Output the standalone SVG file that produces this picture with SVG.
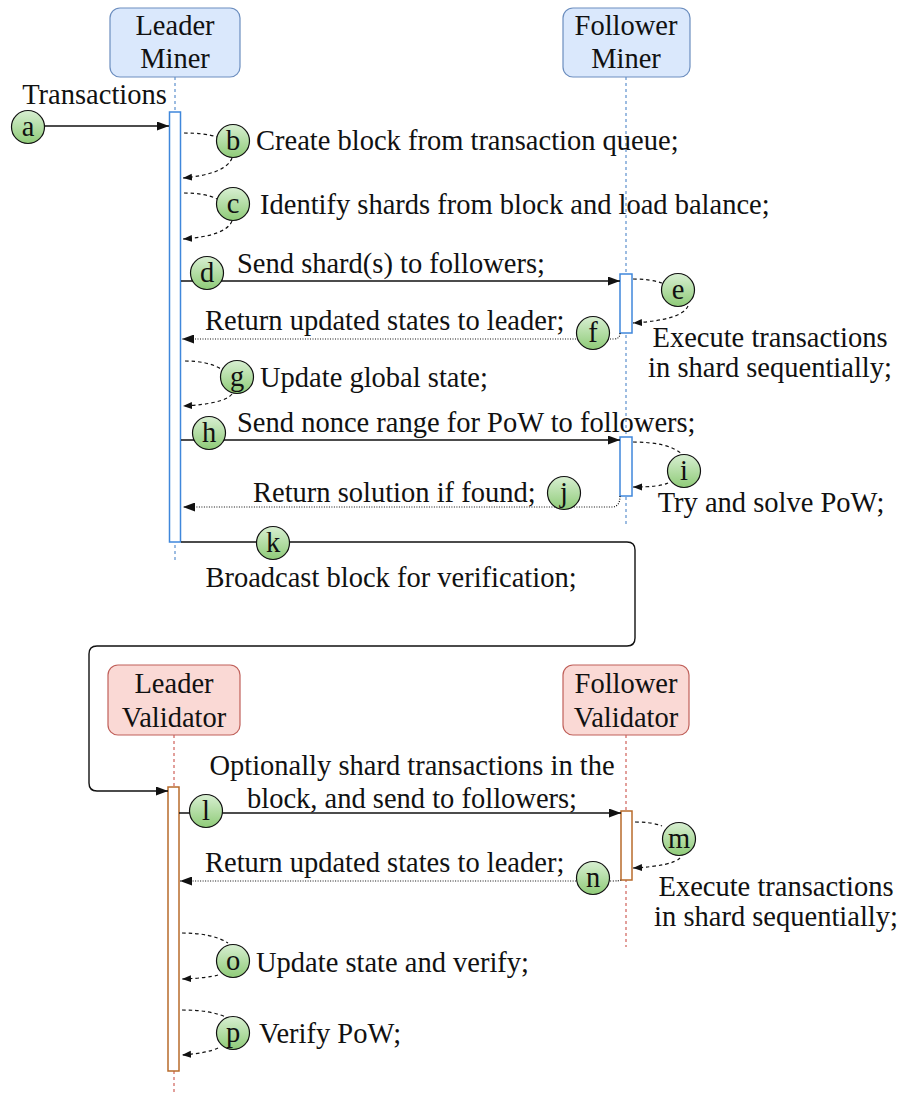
<svg xmlns="http://www.w3.org/2000/svg" width="901" height="1096" viewBox="0 0 901 1096">
<style>
.c{text-anchor:middle}
.lm{stroke:#7ea6d8;stroke-width:1.5;stroke-dasharray:3,3;fill:none}
.lv{stroke:#d9807b;stroke-width:1.5;stroke-dasharray:3,3;fill:none}
.bm{fill:#fff;stroke:#3f87db;stroke-width:1.5}
.bv{fill:#fff;stroke:#b86b2b;stroke-width:1.5}
.hm{fill:#dae8fc;stroke:#6c8ebf;stroke-width:1.2}
.hv{fill:#fad9d5;stroke:#c0605a;stroke-width:1.2}
.sol{stroke:#111;stroke-width:1.4;fill:none}
.dash{stroke:#111;stroke-width:1.2;stroke-dasharray:3.5,3;fill:none}
.dot{stroke:#111;stroke-width:1.2;stroke-dasharray:1,1.5;fill:none}
.nc{fill:url(#grn);stroke:#111;stroke-width:1.2}
</style>
<defs>
<linearGradient id="grn" x1="0" y1="0" x2="0" y2="1"><stop offset="0" stop-color="#d8efd2"/><stop offset="1" stop-color="#8fcb78"/></linearGradient>
<marker id="ar" markerUnits="userSpaceOnUse" markerWidth="13" markerHeight="9" refX="12" refY="4.5" orient="auto"><path d="M0,0 L12,4.5 L0,9 z" fill="#111"/></marker>
<marker id="as" markerUnits="userSpaceOnUse" markerWidth="10" markerHeight="8" refX="9" refY="3.5" orient="auto"><path d="M0,0 L9,3.5 L0,7 z" fill="#111"/></marker>
</defs>

<g id="lifelines">
<line class="lm" x1="175" y1="77" x2="175" y2="560"/>
<line class="lm" x1="626" y1="77" x2="626" y2="527"/>
<line class="lv" x1="174" y1="735" x2="174" y2="1093"/>
<line class="lv" x1="626" y1="735" x2="626" y2="947"/>
</g>

<g id="leader-miner"><rect class="hm" x="110" y="8" width="130" height="69" rx="10"/><text font-family="Liberation Serif" font-size="28.5" fill="#111" class="c" x="175" y="35">Leader</text><text font-family="Liberation Serif" font-size="28.5" fill="#111" class="c" x="175" y="68">Miner</text></g>
<g id="follower-miner"><rect class="hm" x="563" y="8" width="127" height="69" rx="10"/><text font-family="Liberation Serif" font-size="28.5" fill="#111" class="c" x="626" y="35">Follower</text><text font-family="Liberation Serif" font-size="28.5" fill="#111" class="c" x="626" y="68">Miner</text></g>
<g id="leader-validator"><rect class="hv" x="108" y="665" width="132" height="70" rx="10"/><text font-family="Liberation Serif" font-size="28.5" fill="#111" class="c" x="174" y="693">Leader</text><text font-family="Liberation Serif" font-size="28.5" fill="#111" class="c" x="174" y="727">Validator</text></g>
<g id="follower-validator"><rect class="hv" x="563" y="665" width="126" height="70" rx="10"/><text font-family="Liberation Serif" font-size="28.5" fill="#111" class="c" x="626" y="693">Follower</text><text font-family="Liberation Serif" font-size="28.5" fill="#111" class="c" x="626" y="727">Validator</text></g>

<g id="activations">
<rect class="bm" x="169.5" y="112" width="11" height="430"/>
<rect class="bm" x="620" y="274" width="12" height="59"/>
<rect class="bm" x="620" y="437" width="12" height="59"/>
<rect class="bv" x="168" y="787" width="11" height="284"/>
<rect class="bv" x="621" y="811" width="11" height="69"/>
</g>

<g id="connectors">
<path class="sol" d="M45,126 H169" marker-end="url(#ar)"/>
<path class="dash" d="M184,133 Q205,133 217,137"/>
<path class="dash" d="M232,158 Q226,174 183,178" marker-end="url(#as)"/>
<path class="dash" d="M184,193 Q205,193 217,199"/>
<path class="dash" d="M232,221 Q226,236 183,239" marker-end="url(#as)"/>
<path class="sol" d="M181,281 H620" marker-end="url(#ar)"/>
<path class="dash" d="M633,279 Q650,279 662,283"/>
<path class="dash" d="M688,306 Q682,320 633,323" marker-end="url(#as)"/>
<path class="dot" d="M620,333 Q620,339 614,339 H182" marker-end="url(#ar)"/>
<path class="dash" d="M185,361 Q208,361 221,369"/>
<path class="dash" d="M232,394 Q224,404 183,406" marker-end="url(#as)"/>
<path class="sol" d="M181,440 H620" marker-end="url(#ar)"/>
<path class="dash" d="M633,442 Q668,442 682,454"/>
<path class="dash" d="M668,483 Q660,487 633,487" marker-end="url(#as)"/>
<path class="dot" d="M620,496 Q620,507 612,507 H183" marker-end="url(#ar)"/>
<path class="sol" d="M181,542 H627 Q635,542 635,550 V638 Q635,646 627,646 H97 Q89,646 89,654 V783 Q89,791 97,791 H168" marker-end="url(#ar)"/>
<path class="sol" d="M179,813 H621" marker-end="url(#ar)"/>
<path class="dash" d="M635,822 Q652,822 662,826"/>
<path class="dash" d="M680,858 Q672,866 633,868" marker-end="url(#as)"/>
<path class="dot" d="M621,880 Q620,881 612,881 H180" marker-end="url(#ar)"/>
<path class="dash" d="M182,933 Q212,933 228,943"/>
<path class="dash" d="M218,975 Q208,978 182,979" marker-end="url(#as)"/>
<path class="dash" d="M182,1010 Q212,1010 228,1018"/>
<path class="dash" d="M218,1048 Q208,1053 182,1055" marker-end="url(#as)"/>
</g>

<g id="labels">
<text font-family="Liberation Serif" font-size="28.5" fill="#111" class="c" x="94.5" y="104">Transactions</text>
<text font-family="Liberation Serif" font-size="28.5" fill="#111" x="256" y="150">Create block from transaction queue;</text>
<text font-family="Liberation Serif" font-size="28.5" fill="#111" x="260" y="214">Identify shards from block and load balance;</text>
<text font-family="Liberation Serif" font-size="28.5" fill="#111" x="237" y="273">Send shard(s) to followers;</text>
<text font-family="Liberation Serif" font-size="28.5" fill="#111" class="c" x="770" y="347">Execute transactions</text>
<text font-family="Liberation Serif" font-size="28.5" fill="#111" class="c" x="770" y="377">in shard sequentially;</text>
<text font-family="Liberation Serif" font-size="28.5" fill="#111" x="205" y="330">Return updated states to leader;</text>
<text font-family="Liberation Serif" font-size="28.5" fill="#111" x="260" y="387">Update global state;</text>
<text font-family="Liberation Serif" font-size="28.5" fill="#111" x="237" y="432">Send nonce range for PoW to followers;</text>
<text font-family="Liberation Serif" font-size="28.5" fill="#111" class="c" x="771" y="512">Try and solve PoW;</text>
<text font-family="Liberation Serif" font-size="28.5" fill="#111" x="253" y="502">Return solution if found;</text>
<text font-family="Liberation Serif" font-size="28.5" fill="#111" class="c" x="391" y="587">Broadcast block for verification;</text>
<text font-family="Liberation Serif" font-size="28.5" fill="#111" class="c" x="412" y="775">Optionally shard transactions in the</text>
<text font-family="Liberation Serif" font-size="28.5" fill="#111" class="c" x="412" y="808">block, and send to followers;</text>
<text font-family="Liberation Serif" font-size="28.5" fill="#111" class="c" x="776" y="896">Execute transactions</text>
<text font-family="Liberation Serif" font-size="28.5" fill="#111" class="c" x="776" y="926">in shard sequentially;</text>
<text font-family="Liberation Serif" font-size="28.5" fill="#111" x="205" y="872">Return updated states to leader;</text>
<text font-family="Liberation Serif" font-size="28.5" fill="#111" x="256" y="972">Update state and verify;</text>
<text font-family="Liberation Serif" font-size="28.5" fill="#111" x="259" y="1043">Verify PoW;</text>
</g>

<g id="step-a"><circle class="nc" cx="28" cy="127" r="16.5"/><text font-family="Liberation Serif" font-size="28.5" fill="#111" class="c" x="28" y="136">a</text></g>
<g id="step-b"><circle class="nc" cx="233" cy="141" r="16.5"/><text font-family="Liberation Serif" font-size="28.5" fill="#111" class="c" x="233" y="150">b</text></g>
<g id="step-c"><circle class="nc" cx="233" cy="204" r="16.5"/><text font-family="Liberation Serif" font-size="28.5" fill="#111" class="c" x="233" y="213">c</text></g>
<g id="step-d"><circle class="nc" cx="207" cy="273" r="16.5"/><text font-family="Liberation Serif" font-size="28.5" fill="#111" class="c" x="207" y="282">d</text></g>
<g id="step-e"><circle class="nc" cx="678" cy="290" r="16.5"/><text font-family="Liberation Serif" font-size="28.5" fill="#111" class="c" x="678" y="299">e</text></g>
<g id="step-f"><circle class="nc" cx="593" cy="333" r="16.5"/><text font-family="Liberation Serif" font-size="28.5" fill="#111" class="c" x="593" y="342">f</text></g>
<g id="step-g"><circle class="nc" cx="237" cy="377" r="16.5"/><text font-family="Liberation Serif" font-size="28.5" fill="#111" class="c" x="237" y="386">g</text></g>
<g id="step-h"><circle class="nc" cx="209" cy="433" r="16.5"/><text font-family="Liberation Serif" font-size="28.5" fill="#111" class="c" x="209" y="442">h</text></g>
<g id="step-i"><circle class="nc" cx="684" cy="471" r="16.5"/><text font-family="Liberation Serif" font-size="28.5" fill="#111" class="c" x="684" y="480">i</text></g>
<g id="step-j"><circle class="nc" cx="564" cy="493" r="16.5"/><text font-family="Liberation Serif" font-size="28.5" fill="#111" class="c" x="564" y="502">j</text></g>
<g id="step-k"><circle class="nc" cx="273" cy="543" r="16.5"/><text font-family="Liberation Serif" font-size="28.5" fill="#111" class="c" x="273" y="552">k</text></g>
<g id="step-l"><circle class="nc" cx="206" cy="811" r="16.5"/><text font-family="Liberation Serif" font-size="28.5" fill="#111" class="c" x="206" y="820">l</text></g>
<g id="step-m"><circle class="nc" cx="679" cy="839" r="16.5"/><text font-family="Liberation Serif" font-size="28.5" fill="#111" class="c" x="679" y="848">m</text></g>
<g id="step-n"><circle class="nc" cx="593" cy="878" r="16.5"/><text font-family="Liberation Serif" font-size="28.5" fill="#111" class="c" x="593" y="887">n</text></g>
<g id="step-o"><circle class="nc" cx="233" cy="961" r="16.5"/><text font-family="Liberation Serif" font-size="28.5" fill="#111" class="c" x="233" y="970">o</text></g>
<g id="step-p"><circle class="nc" cx="233" cy="1033" r="16.5"/><text font-family="Liberation Serif" font-size="28.5" fill="#111" class="c" x="233" y="1042">p</text></g>
</svg>
